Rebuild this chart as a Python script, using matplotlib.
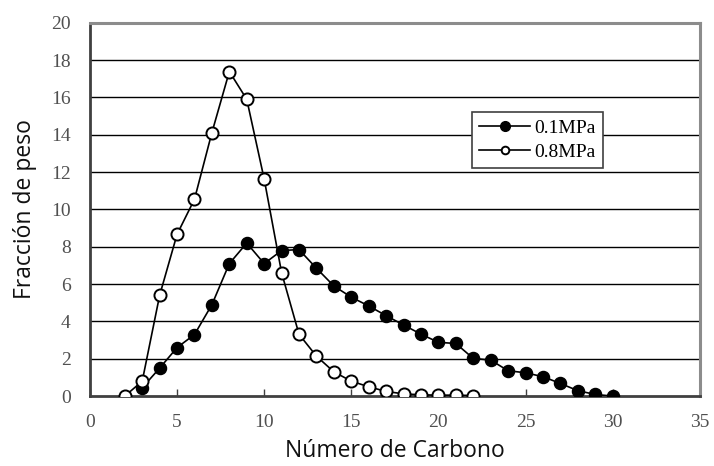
import matplotlib
matplotlib.use("Agg")
import matplotlib.pyplot as plt

# datos
carbon_01 = list(range(3, 31))
peso_01 = [0.45, 1.5, 2.6, 3.3, 4.9, 7.1, 8.2, 7.1, 7.8, 7.85, 6.85, 5.9, 5.3, 4.83,
           4.31, 3.81, 3.32, 2.88, 2.82, 2.02, 1.93, 1.36, 1.25, 1.04, 0.68, 0.29, 0.09, 0.0]

carbon_08 = list(range(2, 23))
peso_08 = [0.0, 0.8, 5.4, 8.67, 10.55, 14.12, 17.39, 15.9, 11.63, 6.61, 3.31, 2.14,
           1.3, 0.8, 0.5, 0.25, 0.12, 0.07, 0.05, 0.05, 0.03]

x_ticks = [0, 5, 10, 15, 20, 25, 30, 35]
y_ticks = list(range(0, 21, 2))

fig = plt.figure(figsize=(7.14, 4.66), dpi=100)
ax = fig.add_axes([0.126, 0.150, 0.854, 0.801])

# lineas de fondo
for y in y_ticks[1:-1]:
    ax.axhline(y, color="black", lw=1.0, zorder=1)

ax.plot(carbon_01, peso_01, color="black", lw=1.2, marker="o", ms=8.7,
        mfc="black", mec="black", mew=1.0, label="0.1MPa", zorder=3)
ax.plot(carbon_08, peso_08, color="black", lw=1.2, marker="o", ms=8.7,
        mfc="white", mec="black", mew=1.4, label="0.8MPa", zorder=4)

ax.set_xlim(0, 35)
ax.set_ylim(0, 20)
ax.set_xticks(x_ticks)
ax.set_yticks(y_ticks)

serif = {"family": "Liberation Serif", "size": 14}
ax.set_xticklabels([str(v) for v in x_ticks], fontdict=serif, color="#505050")
ax.set_yticklabels([str(v) for v in y_ticks], fontdict=serif, color="#505050")
ax.tick_params(axis="x", direction="in", length=5, width=1, color="#404040", pad=13)
ax.tick_params(axis="y", length=0, pad=14)

for side in ["left", "bottom"]:
    ax.spines[side].set_color("#404040")
    ax.spines[side].set_linewidth(2)
for side in ["top", "right"]:
    ax.spines[side].set_color("#8c8c8c")
    ax.spines[side].set_linewidth(2.2)

ax.set_xlabel("Número de Carbono", family="Open Sans", size=16.5, color="#111111", labelpad=6)
ax.set_ylabel("Fracción de peso", family="Open Sans", size=16.5, color="#111111", labelpad=10)

leg = ax.legend(loc="upper left", bbox_to_anchor=(0.626, 0.762), frameon=True,
                fancybox=False, edgecolor="#404040", framealpha=1,
                prop={"family": "Liberation Serif", "size": 14},
                handlelength=2.6, handletextpad=0.2, borderpad=0.4, labelspacing=0.3,
                borderaxespad=0)
leg.get_frame().set_linewidth(1.2)
leg.set_zorder(5)
hs = leg.legend_handles
hs[0].set_markersize(7)
hs[1].set_markersize(5.5)

fig.savefig("out.png", dpi=100)
